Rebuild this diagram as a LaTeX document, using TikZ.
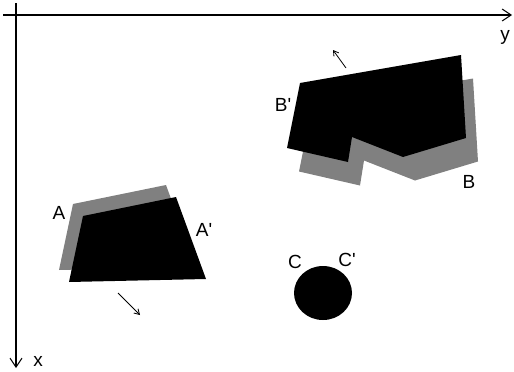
\documentclass[tikz,border=0pt]{standalone}
\usepackage{fontspec}
\setmainfont{Liberation Sans}
\usetikzlibrary{positioning,arrows.meta}

\begin{document}
\begin{tikzpicture}[x=1pt,y=-1pt,
    axis/.style={line width=1.2pt,-{Straight Barb[length=9pt,width=12pt,line width=1pt]}},
    move/.style={line width=0.8pt,-{Straight Barb[length=5pt,width=6pt]}},
    old/.style={fill=black!50},
    new/.style={fill=black},
    lbl/.style={font=\fontsize{19}{21}\selectfont, inner sep=0pt}]
    \useasboundingbox (0,0) rectangle (514,372);

    % axes
    \coordinate (ystart) at (3,15);
    \coordinate (yend) at (512,15);
    \coordinate (xstart) at (16,3);
    \coordinate (xend) at (16,368);
    \draw[axis] (ystart) -- (yend);
    \draw[axis] (xstart) -- (xend);
    \node[lbl] (ylabel) at (505,37) {y};
    \node[lbl] (xlabel) at (38,361) {x};

    % shape B and its moved copy B'
    \fill[old, shift={(12,23.5)}] (300,83) -- (461,55) -- (466,138) -- (403,157)
        -- (352,137) -- (348,162) -- (287,148) -- cycle;
    \fill[new] (300,83) -- (461,55) -- (466,138) -- (403,157)
        -- (352,137) -- (348,162) -- (287,148) -- cycle;

    % shape A and its moved copy A'
    \fill[old, shift={(-10,-12)}] (83,216) -- (176,197) -- (206,279) -- (69,282) -- cycle;
    \fill[new] (83,216) -- (176,197) -- (206,279) -- (69,282) -- cycle;

    % C stays put
    \fill[new] (323,293) ellipse [x radius=29, y radius=27];

    \foreach \name/\pos/\txt in {labA/{(59,213)}/A, labAp/{(204,230)}/A\textquotesingle,
        labB/{(469,182)}/B, labBp/{(283,105)}/B\textquotesingle,
        labC/{(295,262)}/C, labCp/{(347,260)}/C\textquotesingle}
        \node[lbl] (\name) at \pos {\txt};

    % directions of motion
    \coordinate (bfrom) at (346,68);
    \coordinate (bto) at (333,50);
    \coordinate (afrom) at (118,293);
    \coordinate (ato) at (140,315);
    \draw[move] (bfrom) -- (bto);
    \draw[move] (afrom) -- (ato);
\end{tikzpicture}
\end{document}
